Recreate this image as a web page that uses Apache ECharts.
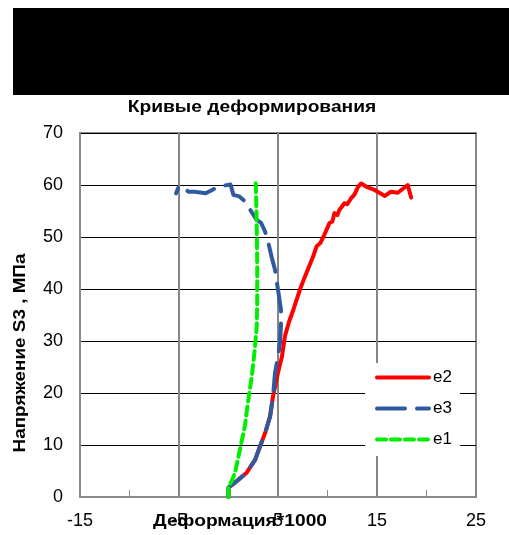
<!DOCTYPE html>
<html>
<head>
<meta charset="utf-8">
<script src="https://cdn.jsdelivr.net/npm/echarts@6/dist/echarts.min.js"></script>
<style>
  html, body { margin: 0; padding: 0; background: #fff; }
  #chart { width: 509px; height: 535px; }
</style>
</head>
<body>
<div id="chart"></div>
<script>
// Strain (x1000) and stress S3 (MPa) readings for each gauge
const e2Strain = [0, 0.0, 0.8, 1.8, 2.7, 3.2, 3.7, 4.2, 4.5, 5.0, 5.4, 5.7, 6.1, 6.6, 7.2, 7.6, 8.0, 8.5, 8.9, 9.3, 9.6, 10.0, 10.2, 10.5, 10.7, 11.0, 11.2, 11.7, 12.0, 12.4, 12.7, 12.9, 13.1, 13.4, 13.9, 14.8, 15.8, 16.4, 17.1, 18.1, 18.45];
const e2Stress = [0, 1.8, 3.0, 4.6, 7.2, 9.8, 12.3, 15.5, 19.4, 23.9, 27.0, 30.9, 33.6, 36.3, 39.8, 41.8, 43.7, 46.0, 48.2, 48.9, 50.1, 51.8, 52.7, 53.0, 54.6, 54.2, 55.2, 56.5, 56.3, 57.5, 58.1, 57.9, 59.7, 60.3, 59.7, 59.0, 57.9, 58.7, 58.5, 60.0, 57.6];

const e3Strain = [0, 0.0, 0.8, 1.8, 2.7, 3.2, 3.7, 4.2, 4.5, 4.7, 5.0, 5.2, 5.3, 5.3, 5.1, 4.9, 4.7, 4.35, 4.0, 3.7, 3.3, 2.85, 2.2, 1.7, 1.1, 0.5, 0.2, -1.0, -2.3, -3.4, -4.0, -5.0, -5.3];
const e3Stress = [0, 1.8, 3.0, 4.6, 7.2, 9.8, 12.3, 15.5, 19.4, 23.9, 27.0, 29.6, 33.0, 36.0, 38.6, 41.1, 43.7, 46.2, 49.1, 51.0, 52.7, 53.3, 55.2, 56.8, 57.8, 58.1, 60.1, 59.7, 58.4, 58.7, 58.7, 59.8, 58.4];

const e1Strain = [0, 0.0, 0.3, 0.65, 1.15, 1.65, 2.0, 2.35, 2.65, 2.85, 2.9, 2.9, 2.85, 2.8, 2.75];
const e1Stress = [0, 1.8, 3.0, 4.6, 9.1, 13.6, 18.7, 23.2, 28.3, 32.8, 37.9, 45.0, 52.0, 57.0, 60.5];

// Axis labelling
const xTickLabels = [-15, -5, 5, 15, 25];
const xGridValues = [-5, 5, 15];

const pairs = (xs, ys) => xs.map((x, i) => [x, ys[i]]);

const chart = echarts.init(document.getElementById('chart'), null, { renderer: 'canvas' });

const FONT = '"Liberation Sans", Arial, sans-serif';
const TITLE_FONT = 'bold 16px ' + FONT;

chart.setOption({
  animation: false,
  backgroundColor: '#ffffff',
  textStyle: { fontFamily: FONT },
  grid: {
    left: 80, right: 33, top: 133, bottom: 38,
    show: true, borderColor: '#8a8a8a', borderWidth: 2, backgroundColor: 'transparent'
  },
  graphic: [
    { type: 'rect', left: 13, top: 8, shape: { width: 496, height: 87 }, style: { fill: '#000' }, z: 10 },
    {
      type: 'text', x: 252, y: 108, z: 10, scaleX: 1.2,
      style: { text: 'Кривые деформирования', font: TITLE_FONT, fill: '#000', align: 'center', verticalAlign: 'middle' }
    },
    {
      type: 'text', x: 240, y: 522, z: 10, scaleX: 1.2,
      style: { text: 'Деформация*1000', font: TITLE_FONT, fill: '#000', align: 'center', verticalAlign: 'middle' }
    },
    {
      type: 'text', x: 21, y: 353, rotation: Math.PI / 2, z: 10, scaleX: 1.18,
      style: { text: 'Напряжение S3 , МПа', font: TITLE_FONT, fill: '#000', align: 'center', verticalAlign: 'middle' }
    }
  ],
  legend: {
    left: 365, top: 363,
    orient: 'vertical',
    backgroundColor: '#ffffff',
    padding: [6, 8, 8, 10],
    itemWidth: 52, itemHeight: 14, itemGap: 14,
    itemStyle: { opacity: 0, borderWidth: 0 },
    lineStyle: { width: 4 },
    textStyle: { fontSize: 17, color: '#000', fontFamily: FONT, padding: [0, 0, 0, -1] },
    data: ['e2', 'e3', 'e1']
  },
  xAxis: {
    type: 'value', min: -15, max: 25, interval: 5,
    axisLine: { show: true, onZero: false, lineStyle: { color: '#8a8a8a', width: 2 } },
    axisTick: { show: true, inside: true, length: 7, lineStyle: { color: '#8a8a8a', width: 1 } },
    axisLabel: {
      margin: 15, fontSize: 18, color: '#000', fontFamily: FONT,
      formatter: v => (xTickLabels.indexOf(v) >= 0 ? String(v) : '')
    },
    splitLine: { show: false }
  },
  yAxis: {
    type: 'value', min: 0, max: 70, interval: 10,
    axisLine: { show: true, onZero: false, lineStyle: { color: '#8a8a8a', width: 2 } },
    axisTick: { show: false },
    axisLabel: { margin: 17, fontSize: 18, color: '#000', fontFamily: FONT },
    splitLine: { show: true, lineStyle: { color: '#000', width: 1 } }
  },
  series: [
    {
      name: 'grid-x', type: 'line', data: [], silent: true, z: 1,
      markLine: {
        silent: true, symbol: 'none', z: 1, animation: false,
        label: { show: false },
        lineStyle: { color: '#868686', width: 2, type: 'solid' },
        data: xGridValues.map(v => ({ xAxis: v }))
      }
    },
    {
      name: 'e2', type: 'line', data: pairs(e2Strain, e2Stress),
      showSymbol: false, symbol: 'none', z: 3,
      color: '#ff0000',
      lineStyle: { color: '#ff0000', width: 4, type: 'solid', cap: 'round', join: 'round' }
    },
    {
      name: 'e3', type: 'line', data: pairs(e3Strain, e3Stress),
      showSymbol: false, symbol: 'none', z: 4,
      color: '#2f5a9e',
      lineStyle: { color: '#2f5a9e', width: 4, type: [28, 12], cap: 'round', join: 'round' }
    },
    {
      name: 'e1', type: 'line', data: pairs(e1Strain, e1Stress),
      showSymbol: false, symbol: 'none', z: 5,
      color: '#00ee00',
      lineStyle: { color: '#00ee00', width: 4, type: [9, 5], cap: 'round', join: 'round' }
    }
  ]
});
</script>
</body>
</html>
